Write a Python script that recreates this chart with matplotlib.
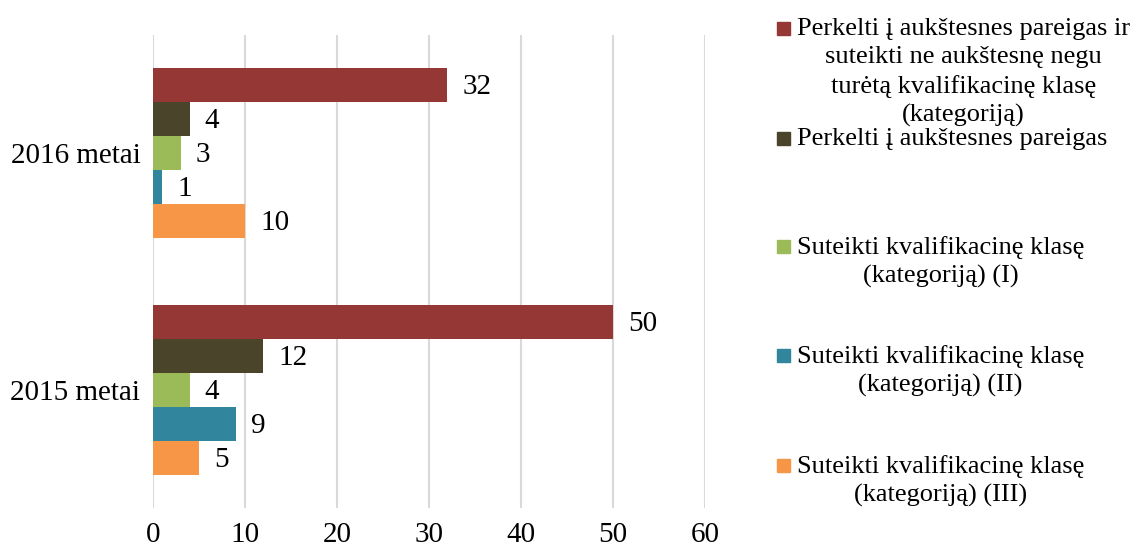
import numpy as np
import matplotlib.pyplot as plt
from matplotlib.patches import Rectangle

plt.rcParams['font.family'] = ['Liberation Serif', 'DejaVu Serif']

years = ['2015 metai', '2016 metai']
series_names = [
    'Perkelti į aukštesnes pareigas ir\nsuteikti ne aukštesnę negu\nturėtą kvalifikacinę klasę\n(kategoriją)',
    'Perkelti į aukštesnes pareigas',
    'Suteikti kvalifikacinę klasę\n(kategoriją) (I)',
    'Suteikti kvalifikacinę klasę\n(kategoriją) (II)',
    'Suteikti kvalifikacinę klasę\n(kategoriją) (III)',
]
# values per series: [2015, 2016]
perkelti_suteikti = [50, 32]
perkelti = [12, 4]
kat_1 = [4, 3]
kat_2 = [9, 1]
kat_3 = [5, 10]
all_values = [perkelti_suteikti, perkelti, kat_1, kat_2, kat_3]
colors = ['#953735', '#4A452A', '#9BBB59', '#31859C', '#F79646']

fs = 21
fig = plt.figure(figsize=(11.36, 5.49), dpi=100)
ax = fig.add_axes([153 / 1136, 1 - 508 / 549, (705 - 153) / 1136, (508 - 35) / 549])

y = np.arange(len(years))
h = 0.144
for i, (vals, c) in enumerate(zip(all_values, colors)):
    pos = y + (2 - i) * h
    ax.barh(pos, vals, height=h, color=c, zorder=3)
    for p, v in zip(pos, vals):
        ax.annotate(str(v), (v, p), xytext=(15, -2), textcoords='offset pixels',
                    ha='left', va='center', fontsize=fs)

ax.set_xlim(0, 60)
ax.set_ylim(-0.5, 1.5)
ax.set_xticks(range(0, 61, 10))
ax.set_yticks(y)
ax.set_yticklabels(years)
ax.tick_params(length=0, labelsize=fs)
ax.tick_params(axis='x', pad=10)
ax.tick_params(axis='y', pad=9)
ax.grid(axis='x', color='#D9D9D9', linewidth=1.5, zorder=0)
for s in ax.spines.values():
    s.set_visible(False)

# legend drawn by hand so the long labels wrap and centre like the original
lfs = 19
first_line_y = [30, 140, 248, 357, 467]
for name, c, ly in zip(series_names, colors, first_line_y):
    fig.patches.append(Rectangle((777 / 1136, 1 - (ly + 5) / 549), 13 / 1136, 13 / 549,
                                 transform=fig.transFigure, color=c))
    fig.text(797 / 1136, 1 - (ly - 12) / 549, name, ha='left', va='top',
             multialignment='center', fontsize=lfs, linespacing=1.36)

fig.savefig('out.png', dpi=100)
